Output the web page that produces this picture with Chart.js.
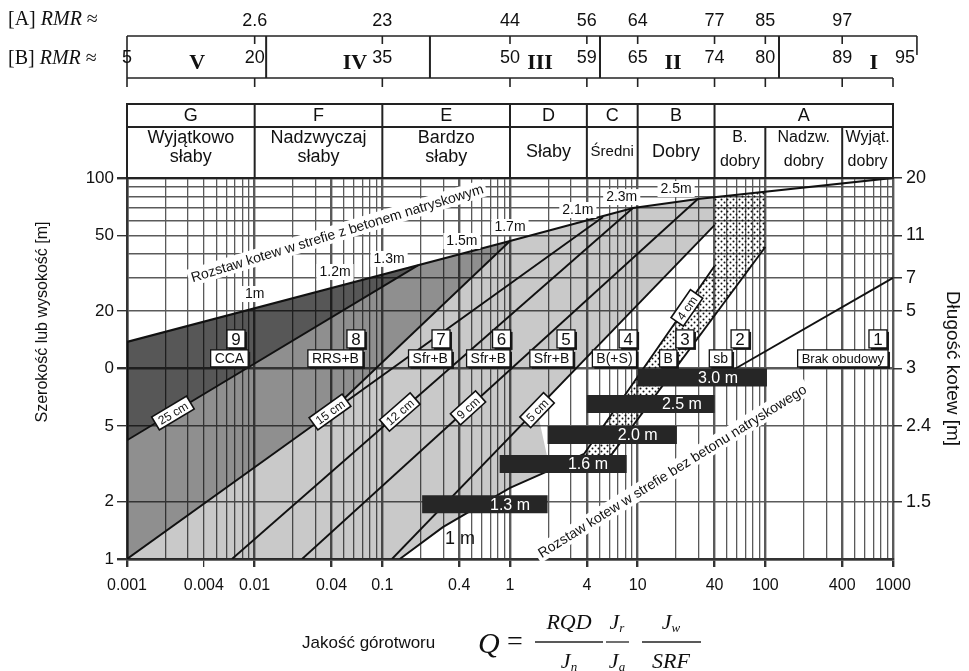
<!DOCTYPE html>
<html><head><meta charset="utf-8">
<script src="https://cdn.jsdelivr.net/npm/chart.js@4.4.0/dist/chart.umd.min.js"></script>
<style>html,body{margin:0;padding:0;background:#fff;}canvas{display:block;}</style>
</head><body>
<canvas id="c" width="969" height="671" style="width:969px;height:671px"></canvas>
<script>
// ---------------- DATA ----------------
const qTickValues = [0.001,0.004,0.01,0.04,0.1,0.4,1,4,10,40,100,400,1000];
const qTickLabels = ['0.001','0.004','0.01','0.04','0.1','0.4','1','4','10','40','100','400','1000'];
const spanTickValues = [1,2,5,10,20,50,100];
const spanTickLabels = ['1','2','5','0','20','50','100'];
const spanMinorGrid = [30,40,60,70,80,90];
const boltLenTickValues = [2,5,10,20,30,50,100];
const boltLenTickLabels = ['1.5','2.4','3','5','7','11','20'];

const rockClasses = ['G','F','E','D','C','B','A'];
const rockClassBounds = [0.001,0.01,0.1,1,4,10,40,1000];
const rockClassNames = [['Wyjątkowo','słaby'],['Nadzwyczaj','słaby'],['Bardzo','słaby'],['Słaby'],['Średni'],['Dobry'],null];
const classASubBounds = [40,100,400,1000];
const classASubNames = [['B.','dobry'],['Nadzw.','dobry'],['Wyjąt.','dobry']];

const rmrAQ = [0.01,0.1,1,4,10,40,100,400];
const rmrALabels = ['2.6','23','44','56','64','77','85','97'];
const rmrBQ = [0.001,0.01,0.1,1,4,10,40,100,400,1240];
const rmrBLabels = ['5','20','35','50','59','65','74','80','89','95'];
const rmrClassDividers = [0.0123,0.236,5.07,128];
const rmrClassNames = ['V','IV','III','II','I'];
const rmrClassQ = [0.00354,0.061,1.72,18.9,708];

// lines as [Q, span]
const boltSpacingShotcrete = [[0.001,13.8],[1,46.7],[9.2,69.6],[29.6,77.6],[1000,100]];
const line25cm = [[0.001,4.2],[0.19,34.8]];
const line15cm = [[0.001,1],[5.35,62.4]];
const line8to7 = [[0.0389,5.91],[1,46.7]];
const line12cm = [[0.00664,1],[9.18,69.6]];
const line9cm = [[0.0235,1],[29.6,77.6]];
const line5cm = [[0.119,1],[40,56.6]];
const line4cm = [[0.137,1],[0.298,1.47],[1.0,2.36],[2.06,2.93],[3.8,3.56],[40,34.5]];
const line3to2 = [[5.07,2.93],[100,43.4]];
const line2to1 = [[55.8,9.82],[1000,29.9]];

// shaded zones
const zone9 = [[0.001,13.8],[0.19,34.8],[0.001,4.2]];
const zone8 = [[0.001,4.2],[0.19,34.8],[1,46.7],[0.0389,5.91],[0.001,1]];
const zoneShot = [[0.001,1],[0.0389,5.91],[1,46.7],[9.2,69.6],[29.6,77.6],[40,79.6],[40,56.6],[1.63,6.05],[2.06,2.93],[1.0,2.36],[0.298,1.47],[0.137,1]];
const zoneDotted = [[40,79.6],[100,84.9],[100,43.4],[6.18,3.52],[3.8,3.52],[40,34.5]];

// bolt spacing bars (no shotcrete)
const boltBarLabels = ['3.0 m','2.5 m','2.0 m','1.6 m','1.3 m'];
const boltBarFromQ = [10,4,1.97,0.83,0.205];
const boltBarToQ = [103,40,20.3,8.2,1.97];
const boltBarSpan = [8.97,6.51,4.48,3.15,1.94];
const boltBarLabelQ = [42.6,22.2,10,4.08,1.0];

// support categories
const supportNumbers = ['9','8','7','6','5','4','3','2','1'];
const supportCodes = ['CCA','RRS+B','Sfr+B','Sfr+B','Sfr+B','B(+S)','B','sb','Brak obudowy'];
const supportCodeRightQ = [0.0089,0.0705,0.351,1.0,3.13,9.8,20.3,54.9,914];
const supportNumRightQ = [0.0084,0.0731,0.339,1.01,3.23,9.9,27.6,74.6,897];
const supportNumSpan = 14.3;
const supportCodeSpan = 11.3;

// shotcrete thickness labels
const shotcreteLabels = ['25 cm','15 cm','12 cm','9 cm','5 cm','4 cm'];
const shotcreteLabelQ = [0.00229,0.0389,0.137,0.469,1.63,24.3];
const shotcreteLabelSpan = [5.84,5.91,5.91,6.21,6.05,20.8];

// bolt spacing labels in shotcrete zone
const spacingLabels = ['1m','1.2m','1.3m','1.5m','1.7m','2.1m','2.3m','2.5m'];
const spacingLabelQ = [0.01,0.0426,0.113,0.42,1.0,3.4,7.5,20];
const spacingLabelSpan = [24.6,32.1,37.6,46.7,55.3,67.9,79.4,87.5];

// ---------------- CHART ----------------
const FONT = '"Liberation Sans", Arial, Helvetica, sans-serif';
const SERIF = '"Liberation Serif", "Times New Roman", serif';
const pts = a => a.map(([x,y]) => ({x,y}));
const near = (a,b) => Math.abs(Math.log10(a) - Math.log10(b)) < 1e-6;

const qGrid = [];
for (let e = -3; e <= 2; e++) for (let m = 1; m <= 9; m++) qGrid.push(Number((m*Math.pow(10,e)).toPrecision(6)));
qGrid.push(1000);
const spanGrid = [...spanTickValues, ...spanMinorGrid].sort((a,b)=>a-b);

const pc = document.createElement('canvas'); pc.width = 6; pc.height = 6;
const pg = pc.getContext('2d'); pg.fillStyle = '#111';
pg.beginPath(); pg.arc(1.5,1.5,1,0,7); pg.fill();
pg.beginPath(); pg.arc(4.5,4.5,1,0,7); pg.fill();
const dotPattern = pg.createPattern(pc,'repeat');

const lineDs = (arr, w=1.9) => ({type:'line', data: pts(arr), borderColor:'#111', borderWidth:w, pointRadius:0, fill:false, tension:0});
const zoneDs = (arr, color) => ({type:'line', data: pts(arr), borderWidth:0, borderColor:'rgba(0,0,0,0)', backgroundColor: color, pointRadius:0, fill:'shape', tension:0});
const barDs = i => ({type:'line', data:[{x:boltBarFromQ[i], y:boltBarSpan[i]},{x:boltBarToQ[i], y:boltBarSpan[i]}], borderColor:'#262626', borderWidth:18, borderCapStyle:'butt', pointRadius:0, fill:false});

const datasets = [
  ...boltBarLabels.map((_,i)=>barDs(i)),
  lineDs(boltSpacingShotcrete, 2.2), lineDs(line25cm), lineDs(line15cm), lineDs(line8to7), lineDs(line12cm),
  lineDs(line9cm), lineDs(line5cm), lineDs(line4cm), lineDs(line3to2), lineDs(line2to1),
  zoneDs(zoneDotted, dotPattern),
  zoneDs(zone9, 'rgba(0,0,0,0.66)'),
  zoneDs(zone8, 'rgba(0,0,0,0.44)'),
  zoneDs(zoneShot, 'rgba(0,0,0,0.21)')
];

function segAngle(X, Y, line, q) {
  let i = 0;
  while (i < line.length - 2 && line[i+1][0] < q) i++;
  const [q1,d1] = line[i], [q2,d2] = line[i+1];
  return Math.atan2(Y(d2)-Y(d1), X(q2)-X(q1));
}
const labelLines = [line25cm, line15cm, line12cm, line9cm, line5cm, line4cm];

const overlay = {
  id: 'overlay',
  afterDatasetsDraw(chart) {
    const {ctx, scales:{x, y}} = chart;
    const X = q => x.getPixelForValue(q), Y = d => y.getPixelForValue(d);
    ctx.save();
    ctx.textAlign = 'center'; ctx.textBaseline = 'middle';

    ctx.font = '16px ' + FONT; ctx.fillStyle = '#fff';
    boltBarLabels.forEach((t,i)=> ctx.fillText(t, X(boltBarLabelQ[i]), Y(boltBarSpan[i])+1));

    ctx.font = '14px ' + FONT;
    spacingLabels.forEach((t,i)=>{
      const px = X(spacingLabelQ[i]), py = Y(spacingLabelSpan[i]);
      const w = ctx.measureText(t).width;
      ctx.fillStyle = '#fff'; ctx.fillRect(px-w/2-3, py-8, w+6, 16);
      ctx.fillStyle = '#111'; ctx.fillText(t, px, py);
    });

    const rot = (t, q, d, ang, size) => {
      ctx.save(); ctx.translate(X(q), Y(d)); ctx.rotate(ang*Math.PI/180);
      ctx.font = size + 'px ' + FONT;
      const w = ctx.measureText(t).width;
      ctx.fillStyle = '#fff'; ctx.fillRect(-w/2-3, -size*0.62, w+6, size*1.24);
      ctx.fillStyle = '#111'; ctx.fillText(t, 0, 1);
      ctx.restore();
    };
    rot('Rozstaw kotew w strefie z betonem natryskowym', 0.0442, 51.5, -17, 14);
    rot('Rozstaw kotew w strefie bez betonu natryskowego', 18.6, 2.90, -32, 14);

    ctx.font = '18px ' + FONT; ctx.fillStyle = '#111';
    ctx.fillText('1 m', X(0.405), Y(1.27));

    shotcreteLabels.forEach((t,i)=>{
      const q = shotcreteLabelQ[i];
      const ang = segAngle(X, Y, labelLines[i], q);
      ctx.save(); ctx.translate(X(q), Y(shotcreteLabelSpan[i])); ctx.rotate(ang);
      ctx.font = '12px ' + FONT;
      const w = ctx.measureText(t).width + 8, h = 15;
      ctx.fillStyle = '#fff'; ctx.fillRect(-w/2, -h/2, w, h);
      ctx.strokeStyle = '#111'; ctx.lineWidth = 1.6; ctx.strokeRect(-w/2, -h/2, w, h);
      ctx.fillStyle = '#111'; ctx.fillText(t, 0, 1);
      ctx.restore();
    });

    const box = (text, right, cy, font, h, minW) => {
      ctx.font = font;
      const w = Math.max(minW || 0, ctx.measureText(text).width + 8);
      const l = right - w, t = cy - h/2;
      ctx.fillStyle = '#1a1a1a'; ctx.fillRect(l+2, t+2, w, h);
      ctx.fillStyle = '#fff'; ctx.fillRect(l, t, w, h);
      ctx.strokeStyle = '#111'; ctx.lineWidth = 1.3; ctx.strokeRect(l, t, w, h);
      ctx.fillStyle = '#111'; ctx.fillText(text, l + w/2, cy + 1);
    };
    supportNumbers.forEach((n,i)=>{
      box(n, X(supportNumRightQ[i]), Y(supportNumSpan), '17px ' + FONT, 18, 18);
      const f = supportCodes[i].length > 8 ? '13px ' : '14px ';
      box(supportCodes[i], X(supportCodeRightQ[i]), Y(supportCodeSpan), f + FONT, 17, 0);
    });
    ctx.restore();
  },
  afterDraw(chart) {
    const {ctx, scales:{x}, chartArea} = chart;
    const X = q => x.getPixelForValue(q);
    ctx.save();
    ctx.strokeStyle = '#222'; ctx.fillStyle = '#111';
    ctx.textAlign = 'center'; ctx.textBaseline = 'middle';

    const y0 = 104, y1 = 127, y2 = chartArea.top;
    ctx.lineWidth = 2;
    ctx.strokeRect(X(0.001), y0, X(1000)-X(0.001), y2-y0);
    ctx.beginPath(); ctx.moveTo(X(0.001), y1); ctx.lineTo(X(1000), y1); ctx.stroke();
    rockClassBounds.forEach(q => { ctx.beginPath(); ctx.moveTo(X(q), y0); ctx.lineTo(X(q), y2); ctx.stroke(); });
    classASubBounds.slice(1,-1).forEach(q => { ctx.beginPath(); ctx.moveTo(X(q), y1); ctx.lineTo(X(q), y2); ctx.stroke(); });
    rockClasses.forEach((c,i)=>{
      const cx = (X(rockClassBounds[i]) + X(rockClassBounds[i+1]))/2;
      ctx.font = '18px ' + FONT; ctx.fillText(c, cx, 116);
      const nm = rockClassNames[i];
      if (!nm) return;
      if (nm.length === 2) { ctx.fillText(nm[0], cx, 138); ctx.fillText(nm[1], cx, 157); }
      else { ctx.font = (nm[0] === 'Średni' ? '15px ' : '18px ') + FONT; ctx.fillText(nm[0], cx, 152); }
    });
    ctx.font = '16px ' + FONT;
    classASubNames.forEach((nm,i)=>{
      const cx = (X(classASubBounds[i]) + X(classASubBounds[i+1]))/2;
      ctx.fillText(nm[0], cx, 138); ctx.fillText(nm[1], cx, 162);
    });

    const rEnd = 1540;
    ctx.lineWidth = 1.6;
    ctx.beginPath(); ctx.moveTo(X(0.001), 36); ctx.lineTo(X(rEnd), 36); ctx.stroke();
    ctx.beginPath(); ctx.moveTo(X(0.001), 78); ctx.lineTo(X(1000), 78); ctx.stroke();
    ctx.beginPath(); ctx.moveTo(X(0.001), 36); ctx.lineTo(X(0.001), 87); ctx.stroke();
    ctx.beginPath(); ctx.moveTo(X(rEnd), 36); ctx.lineTo(X(rEnd), 55); ctx.stroke();
    rmrAQ.forEach(q => { ctx.beginPath(); ctx.moveTo(X(q), 36); ctx.lineTo(X(q), 44); ctx.stroke(); });
    [0.01,0.1,1,4,10,40,100,400,1000].forEach(q => { ctx.beginPath(); ctx.moveTo(X(q), 78); ctx.lineTo(X(q), 87); ctx.stroke(); });
    ctx.lineWidth = 2;
    rmrClassDividers.forEach(q => { ctx.beginPath(); ctx.moveTo(X(q), 36); ctx.lineTo(X(q), 78); ctx.stroke(); });
    ctx.font = '18px ' + FONT;
    rmrALabels.forEach((t,i)=> ctx.fillText(t, X(rmrAQ[i]), 21));
    rmrBLabels.forEach((t,i)=> ctx.fillText(t, X(rmrBQ[i]), 58));
    ctx.font = 'bold 22px ' + SERIF;
    rmrClassNames.forEach((t,i)=> ctx.fillText(t, X(rmrClassQ[i]), 63));
    const rmrLabel = (tag, yy) => {
      ctx.textAlign = 'left'; let xx = 8;
      ctx.font = '20px ' + SERIF; ctx.fillText(tag + ' ', xx, yy); xx += ctx.measureText(tag + ' ').width;
      ctx.font = 'italic 20px ' + SERIF; ctx.fillText('RMR', xx, yy); xx += ctx.measureText('RMR ').width;
      ctx.font = '20px ' + SERIF; ctx.fillText('≈', xx, yy);
      ctx.textAlign = 'center';
    };
    rmrLabel('[A]', 20); rmrLabel('[B]', 59);

    ctx.save(); ctx.translate(43, 322); ctx.rotate(-Math.PI/2);
    ctx.font = '16px ' + FONT; ctx.fillText('Szerokość lub wysokość [m]', 0, 0); ctx.restore();

    ctx.textAlign = 'left';
    ctx.font = '17px ' + FONT; ctx.fillText('Jakość górotworu', 302, 643);
    ctx.font = 'italic 30px ' + SERIF; ctx.fillText('Q', 478, 645);
    ctx.font = '28px ' + SERIF; ctx.fillText('=', 507, 643);
    ctx.textAlign = 'center';
    const frac = (num, den, denSub, numSub, cx, x1, x2) => {
      ctx.lineWidth = 1.3; ctx.beginPath(); ctx.moveTo(x1, 642); ctx.lineTo(x2, 642); ctx.stroke();
      const part = (txt, sub, yy) => {
        ctx.font = 'italic 22px ' + SERIF; const w1 = ctx.measureText(txt).width;
        ctx.font = 'italic 13px ' + SERIF; const w2 = sub ? ctx.measureText(sub).width : 0;
        const sx = cx - (w1+w2)/2;
        ctx.textAlign = 'left';
        ctx.font = 'italic 22px ' + SERIF; ctx.fillText(txt, sx, yy);
        if (sub) { ctx.font = 'italic 13px ' + SERIF; ctx.fillText(sub, sx + w1, yy + 6); }
        ctx.textAlign = 'center';
      };
      part(num, numSub, 623); part(den, denSub, 662);
    };
    frac('RQD', 'J', 'n', '', 569, 535, 603);
    frac('J', 'J', 'a', 'r', 617, 606, 629);
    frac('J', 'SRF', '', 'w', 671, 642, 701);
    ctx.restore();
  }
};

const gridColor = '#5a5a5a';
new Chart(document.getElementById('c').getContext('2d'), {
  type: 'scatter',
  data: { datasets },
  options: {
    responsive: false, animation: false, events: [],
    layout: { padding: { top: 178, left: 0, right: 0, bottom: 0 } },
    plugins: { legend: { display: false }, tooltip: { enabled: false } },
    scales: {
      x: {
        type: 'logarithmic', min: 0.001, max: 1000, position: 'bottom',
        afterBuildTicks: s => { s.ticks = qGrid.map(v => ({value: v})); },
        afterFit: s => { s.height = 112; },
        ticks: { autoSkip: false, maxRotation: 0, minRotation: 0, padding: 9, color: '#111', font: { size: 16, family: FONT },
          callback: v => { const i = qTickValues.findIndex(t => near(t, v)); return i >= 0 ? qTickLabels[i] : ''; } },
        grid: { color: gridColor, tickLength: 8,
          lineWidth: c => { const v = c.tick ? c.tick.value : 1; const l = Math.log10(v); return (Math.abs(l - Math.round(l)) < 1e-6 || [0.04,0.4,4,40,400].some(t => near(t, v))) ? 2.4 : 1.3; },
          tickColor: c => (c.tick && qTickValues.some(t => near(t, c.tick.value))) ? '#333' : 'rgba(0,0,0,0)' },
        border: { display: true, color: '#333', width: 2.5 }
      },
      y: {
        type: 'logarithmic', min: 1, max: 100, position: 'left',
        afterBuildTicks: s => { s.ticks = spanGrid.map(v => ({value: v})); },
        afterFit: s => { s.width = 127; },
        ticks: { autoSkip: false, padding: 3, color: '#111', font: { size: 17, family: FONT },
          callback: v => { const i = spanTickValues.findIndex(t => near(t, v)); return i >= 0 ? spanTickLabels[i] : ''; } },
        grid: { color: gridColor, tickLength: 10,
          lineWidth: c => { const v = c.tick ? c.tick.value : 1; return [1,10,100].some(t => near(t, v)) ? 2.4 : 1.4; },
          tickColor: c => (c.tick && spanTickValues.some(t => near(t, c.tick.value))) ? '#333' : 'rgba(0,0,0,0)' },
        border: { display: true, color: '#333', width: 2.5 }
      },
      y2: {
        type: 'logarithmic', min: 1, max: 100, position: 'right',
        afterBuildTicks: s => { s.ticks = boltLenTickValues.map(v => ({value: v})); },
        afterFit: s => { s.width = 76; },
        ticks: { autoSkip: false, padding: 4, color: '#111', font: { size: 18, family: FONT },
          callback: v => { const i = boltLenTickValues.findIndex(t => near(t, v)); return i >= 0 ? boltLenTickLabels[i] : ''; } },
        grid: { drawOnChartArea: false, tickLength: 9, tickColor: '#333', lineWidth: 1.5 },
        border: { display: false },
        title: { display: true, text: 'Długość kotew [m]', color: '#111', font: { size: 19, family: FONT }, padding: { top: 5 } }
      }
    }
  },
  plugins: [overlay]
});
</script>
</body></html>
